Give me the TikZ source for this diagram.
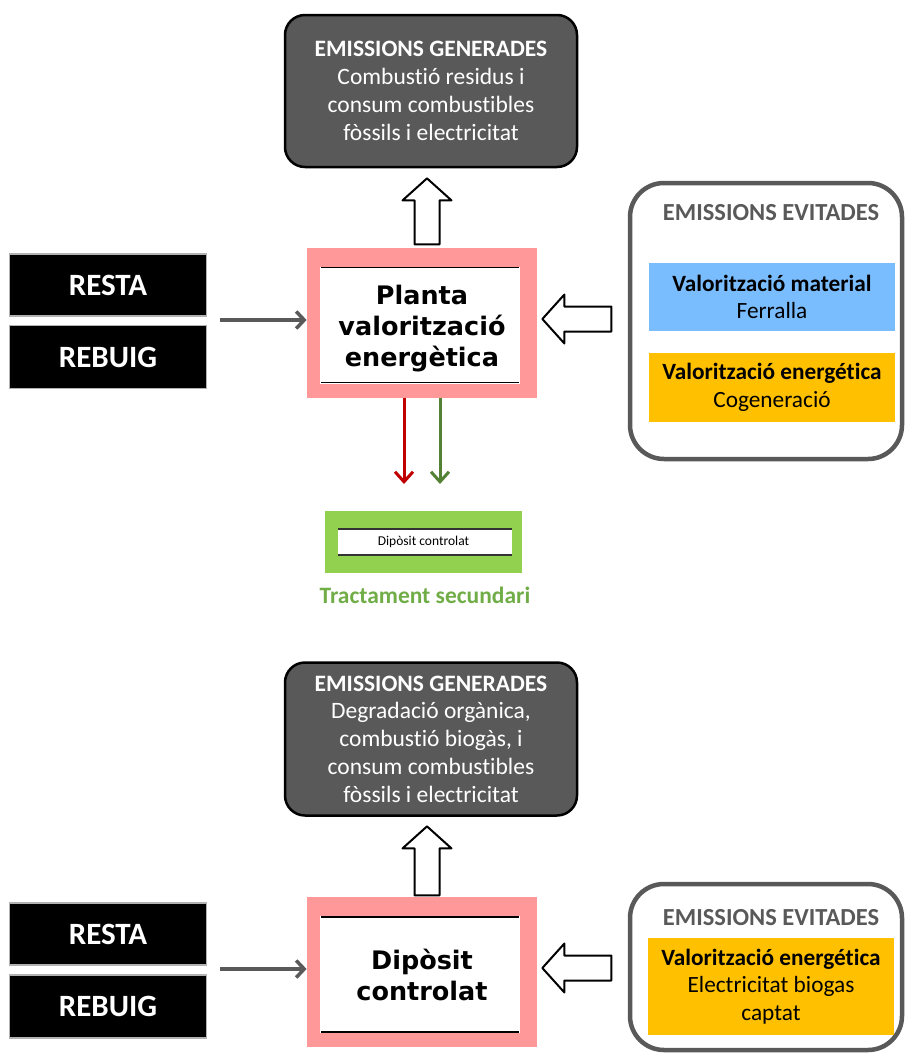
\documentclass[tikz,border=0pt]{standalone}
\usepackage{fontspec}
\setmainfont{Carlito}[Ligatures=NoCommon]
\newfontfamily\verdana{DejaVu Sans}
\usetikzlibrary{arrows.meta,shapes.arrows}
\definecolor{rosa}{HTML}{FF9999}
\definecolor{gris}{HTML}{595959}
\definecolor{blau}{HTML}{7ABDFF}
\definecolor{taronja}{HTML}{FFC000}
\definecolor{verd}{HTML}{92D050}
\definecolor{verdtxt}{HTML}{70AD47}
\definecolor{vermell}{HTML}{C00000}
\definecolor{verdfosc}{HTML}{548235}
\def\rotul#1{\raisebox{-6.5pt}[\height][\depth]{\begin{tabular}{@{}c@{}}#1\end{tabular}}}
\begin{document}
\begin{tikzpicture}[x=1pt, y=-1pt, thick,
  generada/.style={draw=black, line width=2.5pt, fill=gris, text=white,
    rounded corners=20pt, minimum width=292, inner sep=0, align=center,
    font=\fontsize{23.5}{27.8}\selectfont},
  evitada/.style={draw=gris, line width=4.5pt, fill=white, rounded corners=34pt},
  residu/.style={fill=black, draw=black!30, line width=1.2pt, text=white,
    minimum width=197, minimum height=62, inner sep=0,
    font=\bfseries\fontsize{31}{32}\selectfont},
  planta/.style={fill=rosa, minimum width=230, minimum height=150, inner sep=0,
    font=\verdana\bfseries\fontsize{25.5}{31}\selectfont,
    path picture={
      \fill[white] ([shift={(13,19)}]path picture bounding box.north west)
        rectangle ([shift={(-17,-14)}]path picture bounding box.south east);
      \draw[line width=1.6pt] ([shift={(14,20)}]path picture bounding box.north west)
        -- ([shift={(-18,20)}]path picture bounding box.north east);
      \draw[line width=1.6pt] ([shift={(14,-15)}]path picture bounding box.south west)
        -- ([shift={(-18,-15)}]path picture bounding box.south east);
    }},
  secundari/.style={fill=verd, minimum width=197, minimum height=62, inner sep=0,
    font=\fontsize{13.5}{15}\selectfont,
    path picture={
      \fill[white] ([shift={(13,18)}]path picture bounding box.north west)
        rectangle ([shift={(-10,-18)}]path picture bounding box.south east);
      \draw[line width=1.2pt, black!80] ([shift={(13,18)}]path picture bounding box.north west)
        -- ([shift={(-10,18)}]path picture bounding box.north east);
      \draw[line width=1.2pt, black!80] ([shift={(13,-18)}]path picture bounding box.south west)
        -- ([shift={(-10,-18)}]path picture bounding box.south east);
    }},
  valor/.style={minimum width=246, inner sep=0, align=center,
    font=\fontsize{23.3}{27.5}\selectfont},
  titol/.style={text=gris, font=\bfseries\fontsize{24.5}{27}\selectfont},
  bloc/.style={single arrow, draw=black, fill=white, line width=2pt, line join=round,
    inner xsep=0, inner ysep=11.5pt, single arrow head extend=12pt,
    single arrow tip angle=96, anchor=tip},
  fletxa/.style={-{Straight Barb[length=8pt,width=17pt]}, line width=3.5pt, draw=gris},
  fina/.style={-{Straight Barb[length=10pt,width=18pt]}, line width=3pt}]
\useasboundingbox (0,0) rectangle (905,1055);

% planta de valoritzacio
\node[generada, minimum height=152] (gen1) at (431,91)
  {\textbf{EMISSIONS GENERADES}\\Combustió residus i\\consum combustibles\\fòssils i electricitat};
\node[residu] (resta1) at (108,285) {RESTA};
\node[residu, minimum height=63] (rebuig1) at (108,357) {REBUIG};
\node[planta] (planta1) at (422,322.5) {\rotul{Planta\\valorització\\energètica}};
\node[evitada, minimum width=272, minimum height=276] (evit1) at (766,321) {};
\node[titol] (evtit1) at (771,213) {EMISSIONS EVITADES};
\node[valor, fill=blau, minimum height=68] (mat1) at (772,297)
  {\textbf{Valorització material}\\Ferralla};
\node[valor, fill=taronja, minimum height=69] (ene1) at (772,387.5)
  {\textbf{Valorització energética}\\Cogeneració};
\node[bloc, minimum height=66, rotate=90] (up1) at (427,177) {};
\node[bloc, minimum height=69, rotate=180] (left1) at (541,319) {};
\node[secundari] (dip1) at (423.5,542) {Dipòsit controlat};
\node[text=verdtxt, font=\bfseries\fontsize{23.5}{27}\selectfont] (sec1) at (425,595)
  {Tractament secundari};
\coordinate (in1) at (220,320);
\coordinate (r1) at (404,484);
\coordinate (g1) at (440,484);
\draw[fletxa] (in1) -- (in1 -| planta1.west);
\draw[fina, vermell] (planta1.south -| r1) -- (r1);
\draw[fina, verdfosc] (planta1.south -| g1) -- (g1);

% diposit controlat
\node[generada, minimum height=153] (gen2) at (431,739)
  {\textbf{EMISSIONS GENERADES}\\Degradació orgànica,\\combustió biogàs, i\\consum combustibles\\fòssils i electricitat};
\node[residu] (resta2) at (108,934) {RESTA};
\node[residu, minimum height=63] (rebuig2) at (108,1006.5) {REBUIG};
\node[planta] (planta2) at (422,972) {\rotul{Dipòsit\\controlat}};
\node[evitada, minimum width=272, minimum height=166] (evit2) at (766,967) {};
\node[titol] (evtit2) at (771,918) {EMISSIONS EVITADES};
\node[valor, fill=taronja, minimum height=97] (ene2) at (771,986.5)
  {\textbf{Valorització energética}\\Electricitat biogas\\captat};
\node[bloc, minimum height=69, rotate=90] (up2) at (427,825) {};
\node[bloc, minimum height=69, rotate=180] (left2) at (541,968) {};
\coordinate (in2) at (220,969);
\draw[fletxa] (in2) -- (in2 -| planta2.west);
\end{tikzpicture}
\end{document}
